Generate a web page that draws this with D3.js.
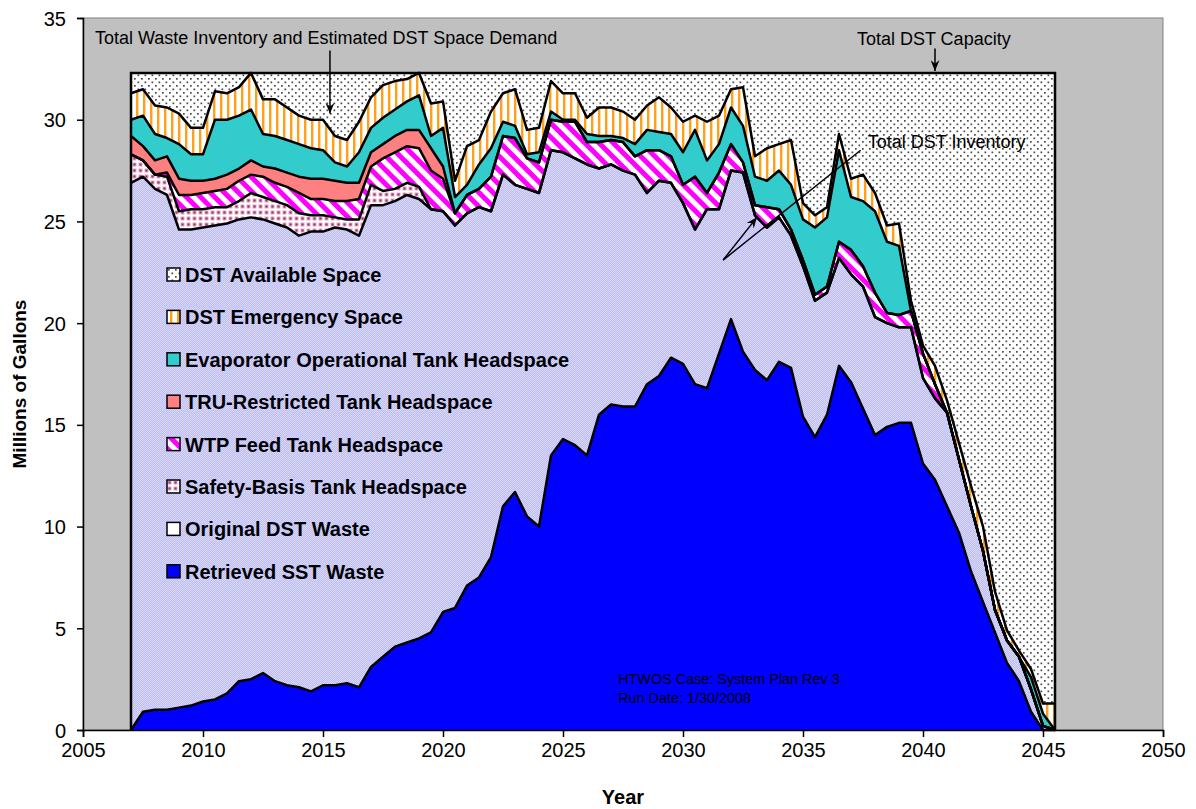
<!DOCTYPE html>
<html>
<head>
<meta charset="utf-8">
<script src="https://cdn.jsdelivr.net/npm/d3@7"></script>
<style>
  body { margin: 0; background: #fff; }
  svg text { font-family: Arial, "Liberation Sans", sans-serif; }
</style>
</head>
<body>
<div id="app"></div>
<script>
// half-year steps (millions of gallons, thickness of each layer)
const years = [2007, 2007.5, 2008, 2008.5, 2009, 2009.5, 2010, 2010.5, 2011, 2011.5,
	2012, 2012.5, 2013, 2013.5, 2014, 2014.5, 2015, 2015.5, 2016, 2016.5,
	2017, 2017.5, 2018, 2018.5, 2019, 2019.5, 2020, 2020.5, 2021, 2021.5,
	2022, 2022.5, 2023, 2023.5, 2024, 2024.5, 2025, 2025.5, 2026, 2026.5,
	2027, 2027.5, 2028, 2028.5, 2029, 2029.5, 2030, 2030.5, 2031, 2031.5,
	2032, 2032.5, 2033, 2033.5, 2034, 2034.5, 2035, 2035.5, 2036, 2036.5,
	2037, 2037.5, 2038, 2038.5, 2039, 2039.5, 2040, 2040.5, 2041, 2041.5,
	2042, 2042.5, 2043, 2043.5, 2044, 2044.5, 2045, 2045.5];

const retrievedSST = [0.0, 0.9, 1.0, 1.0, 1.1, 1.2, 1.4, 1.5, 1.8, 2.4,
	2.5, 2.8, 2.4, 2.2, 2.1, 1.9, 2.2, 2.2, 2.3, 2.1,
	3.1, 3.6, 4.1, 4.3, 4.5, 4.8, 5.8, 6.0, 7.1, 7.5,
	8.5, 11.0, 11.7, 10.5, 10.0, 13.5, 14.3, 14.0, 13.5, 15.5,
	16.0, 15.9, 15.9, 17.0, 17.4, 18.3, 18.0, 17.0, 16.8, 18.5,
	20.2, 18.6, 17.7, 17.2, 18.1, 17.8, 15.4, 14.4, 15.5, 17.9,
	17.1, 15.8, 14.5, 14.9, 15.1, 15.1, 13.1, 12.3, 11.0, 9.7,
	7.8, 6.3, 4.8, 3.3, 2.4, 0.9, 0, 0];

const originalDST = [26.9, 26.3, 25.6, 25.3, 23.5, 23.4, 23.3, 23.3, 23.1, 22.7,
	22.7, 22.3, 22.5, 22.5, 22.2, 22.6, 22.3, 22.5, 22.3, 22.2,
	22.7, 22.2, 21.9, 22.0, 21.6, 20.8, 19.7, 18.8, 18.3, 18.2,
	17.0, 16.3, 15.1, 16.1, 16.4, 15.0, 14.1, 14.1, 14.3, 12.1,
	11.8, 11.6, 11.4, 9.4, 9.6, 8.6, 7.9, 7.6, 8.8, 7.1,
	7.3, 8.8, 7.6, 7.5, 7.1, 6.5, 7.4, 6.7, 6.0, 5.3,
	5.3, 6.0, 5.8, 5.1, 4.7, 4.7, 4.2, 4.0, 4.6, 3.6,
	3.2, 2.5, 1.1, 1.1, 1.2, 1.1, 0.2, 0];

const safetyBasis = [1.4, 0.8, 0.7, 0.9, 0.9, 1.0, 0.9, 0.9, 0.8, 0.9,
	1.2, 1.1, 1.1, 1.1, 1.1, 0.8, 0.8, 0.5, 0.5, 0.8,
	1.0, 0.7, 0.6, 0.6, 0.6, 0, 0, 0, 0, 0,
	0, 0, 0, 0, 0, 0, 0, 0, 0, 0,
	0, 0, 0, 0, 0, 0, 0, 0, 0, 0,
	0, 0, 0, 0, 0, 0, 0, 0, 0, 0,
	0, 0, 0, 0, 0, 0, 0, 0, 0, 0,
	0, 0, 0, 0, 0, 0, 0, 0];

const wtpFeed = [0, 0, 0, 0.2, 0.8, 0.7, 0.8, 0.8, 0.9, 1.0,
	0.9, 1.0, 0.9, 0.9, 1.0, 0.8, 0.8, 0.8, 0.9, 1.0,
	0.9, 1.6, 1.8, 1.8, 1.9, 1.9, 1.6, 0.6, 0.9, 0.9,
	1.7, 1.9, 2.3, 1.5, 1.5, 1.5, 1.5, 1.8, 1.1, 1.3,
	1.2, 1.4, 0.9, 2.1, 1.5, 1.3, 0.9, 2.6, 0.8, 1.8,
	1.3, 0.5, 0.5, 1.0, 0.4, 0.3, 0.3, 0.3, 0.3, 0.8,
	1.2, 1.0, 1.2, 0.5, 0.6, 0.8, 1.2, 0.7, 0, 0,
	0, 0, 0, 0, 0, 0, 0, 0];

const truRestricted = [0.9, 0.7, 0.7, 0.8, 0.8, 0.7, 0.6, 0.6, 0.7, 0.6,
	0.7, 0.5, 0.7, 0.7, 0.8, 1.0, 1.0, 1.0, 0.9, 0.8,
	0.7, 0.7, 0.8, 0.8, 0.9, 1.1, 0.6, 0, 0, 0,
	0, 0, 0, 0, 0, 0, 0, 0, 0, 0,
	0, 0, 0, 0, 0, 0, 0, 0, 0, 0,
	0, 0, 0, 0, 0, 0, 0, 0, 0, 0,
	0, 0, 0, 0, 0, 0, 0, 0, 0, 0,
	0, 0, 0, 0, 0, 0, 0, 0];

const evaporator = [0.8, 1.5, 1.3, 0.9, 1.7, 1.3, 1.3, 2.9, 2.7, 2.6,
	2.5, 1.6, 1.6, 1.6, 1.6, 1.5, 1.4, 0.9, 0.8, 1.5,
	1.2, 1.3, 1.3, 1.4, 1.7, 0.6, 1.9, 0.8, 0.5, 1.2,
	1.4, 0.7, 0.6, 0.2, 0.5, 0.4, 0.1, 0.1, 0.4, 0.3,
	0.2, 0.2, 0.6, 1.0, 0.9, 1.1, 1.6, 2.3, 1.6, 1.4,
	1.8, 1.8, 1.4, 1.3, 1.9, 2.2, 2.0, 3.3, 3.4, 4.5,
	2.6, 3.2, 4.0, 3.5, 3.4, 0, 0, 0, 0, 0,
	0, 0, 0, 0, 0, 0.6, 0.6, 0];

const emergency = [1.3, 1.3, 1.4, 1.5, 1.5, 1.3, 1.3, 1.4, 1.3, 1.4,
	1.8, 1.7, 1.8, 1.6, 1.4, 1.4, 1.5, 1.3, 1.3, 1.5,
	1.5, 1.6, 1.4, 1.1, 1.1, 1.6, 1.3, 0.8, 1.9, 1.2,
	1.8, 1.4, 1.8, 1.2, 1.2, 1.5, 1.3, 1.3, 0.8, 1.4,
	1.4, 1.3, 1.2, 1.2, 1.7, 1.3, 1.5, 0.7, 1.9, 1.4,
	0.9, 1.9, 1.0, 1.6, 1.3, 2.2, 0.8, 0.6, 0.5, 0.8,
	0.9, 1.3, 0.9, 0.8, 1.1, 0.5, 0.4, 0.9, 0.6, 0.8,
	1.0, 1.2, 0.9, 0.5, 0.3, 0.4, 0.5, 1.3];

const dstCapacity = 32.3;

const xTicks = [2005, 2010, 2015, 2020, 2025, 2030, 2035, 2040, 2045, 2050];
const yTicks = [0, 5, 10, 15, 20, 25, 30, 35];

const layerKeys = ["sst", "original", "safety", "wtp", "tru", "evap", "emergency"];
const layerFill = {
	sst: "#0000ff",
	original: "url(#pOriginal)",
	safety: "url(#pSafety)",
	wtp: "url(#pWtp)",
	tru: "#ff8080",
	evap: "#33cccc",
	emergency: "url(#pEmergency)"
};

const legendItems = [
	{ label: "DST Available Space", fill: "url(#pDots)" },
	{ label: "DST Emergency Space", fill: "url(#pEmergency)" },
	{ label: "Evaporator Operational Tank Headspace", fill: "#33cccc" },
	{ label: "TRU-Restricted Tank Headspace", fill: "#ff8080" },
	{ label: "WTP Feed Tank Headspace", fill: "url(#pWtp)" },
	{ label: "Safety-Basis Tank Headspace", fill: "url(#pSafety)" },
	{ label: "Original DST Waste", fill: "#ffffff" },
	{ label: "Retrieved SST Waste", fill: "#0000ff" }
];

const W = 1196, H = 809;
const plot = { left: 83, right: 1163, top: 18, bottom: 730 };

const x = d3.scaleLinear().domain([2005, 2050]).range([plot.left, plot.right]);
const y = d3.scaleLinear().domain([0, 35]).range([plot.bottom, plot.top]);

const svg = d3.select("#app").append("svg")
	.attr("width", W)
	.attr("height", H);

// patterns
const defs = svg.append("defs");

const pDots = defs.append("pattern").attr("id", "pDots")
	.attr("patternUnits", "userSpaceOnUse").attr("width", 7).attr("height", 7);
pDots.append("rect").attr("width", 7).attr("height", 7).attr("fill", "#fff");
pDots.append("rect").attr("x", 1).attr("y", 1).attr("width", 1.7).attr("height", 1.7).attr("fill", "#4a4a4a");
pDots.append("rect").attr("x", 4.5).attr("y", 4.5).attr("width", 1.7).attr("height", 1.7).attr("fill", "#4a4a4a");

const pEm = defs.append("pattern").attr("id", "pEmergency")
	.attr("patternUnits", "userSpaceOnUse").attr("width", 7).attr("height", 7);
pEm.append("rect").attr("width", 7).attr("height", 7).attr("fill", "#fff");
pEm.append("rect").attr("x", 3).attr("width", 2.4).attr("height", 7).attr("fill", "#ff9f1a");

const pWtp = defs.append("pattern").attr("id", "pWtp")
	.attr("patternUnits", "userSpaceOnUse").attr("width", 10).attr("height", 10)
	.attr("patternTransform", "rotate(-45)");
pWtp.append("rect").attr("width", 10).attr("height", 10).attr("fill", "#fff");
pWtp.append("rect").attr("width", 5).attr("height", 10).attr("fill", "#ff00ff");

const pSafety = defs.append("pattern").attr("id", "pSafety")
	.attr("patternUnits", "userSpaceOnUse").attr("width", 6).attr("height", 6);
pSafety.append("rect").attr("width", 6).attr("height", 6).attr("fill", "#fff");
pSafety.append("rect").attr("x", 0.5).attr("y", 0.5).attr("width", 4).attr("height", 4).attr("fill", "#d9a6c2");
pSafety.append("rect").attr("x", 1.5).attr("y", 1.5).attr("width", 2).attr("height", 2).attr("fill", "#993366");

const pOrig = defs.append("pattern").attr("id", "pOriginal")
	.attr("patternUnits", "userSpaceOnUse").attr("width", 2).attr("height", 2);
pOrig.append("rect").attr("width", 2).attr("height", 2).attr("fill", "#bdbdf3");
pOrig.append("rect").attr("width", 1).attr("height", 1).attr("fill", "#d8d8ff");
pOrig.append("rect").attr("x", 1).attr("y", 1).attr("width", 1).attr("height", 1).attr("fill", "#d8d8ff");

const marker = defs.append("marker").attr("id", "arrowHead")
	.attr("viewBox", "0 0 12 10").attr("refX", 12).attr("refY", 5)
	.attr("markerUnits", "userSpaceOnUse")
	.attr("markerWidth", 12).attr("markerHeight", 9)
	.attr("orient", "auto");
marker.append("path").attr("d", "M0,0 L12,5 L0,10 L4,5 Z").attr("fill", "#000");

// plot background
svg.append("rect")
	.attr("x", plot.left).attr("y", plot.top)
	.attr("width", plot.right - plot.left).attr("height", plot.bottom - plot.top)
	.attr("fill", "#c0c0c0")
	.attr("stroke", "#808080").attr("stroke-width", 1);

// stacked layers
const rows = years.map((yr, i) => ({
	year: yr,
	sst: retrievedSST[i],
	original: originalDST[i],
	safety: safetyBasis[i],
	wtp: wtpFeed[i],
	tru: truRestricted[i],
	evap: evaporator[i],
	emergency: emergency[i]
}));

const stacked = d3.stack().keys(layerKeys)(rows);
const topLayer = stacked[stacked.length - 1];

const area = d3.area()
	.x(d => x(d.data.year))
	.y0(d => y(d[0]))
	.y1(d => y(d[1]));

const line = d3.line()
	.x(d => x(d.data.year))
	.y(d => y(d[1]));

const g = svg.append("g");

// DST available space: from top of stack up to capacity
g.append("path")
	.datum(topLayer)
	.attr("d", d3.area()
		.x(d => x(d.data.year))
		.y0(d => y(d[1]))
		.y1(() => y(dstCapacity)))
	.attr("fill", "url(#pDots)");

g.selectAll("path.layer")
	.data(stacked)
	.enter()
	.append("path")
	.attr("class", "layer")
	.attr("d", area)
	.attr("fill", d => layerFill[d.key]);

g.selectAll("path.edge")
	.data(stacked)
	.enter()
	.append("path")
	.attr("class", "edge")
	.attr("d", line)
	.attr("fill", "none")
	.attr("stroke", "#000")
	.attr("stroke-width", 2.5)
	.attr("stroke-linejoin", "round");

// outline of the capacity block
const x0 = x(years[0]), x1 = x(years[years.length - 1]);
g.append("path")
	.attr("d", `M${x0},${y(0)} V${y(dstCapacity)} H${x1} V${y(0)}`)
	.attr("fill", "none")
	.attr("stroke", "#000")
	.attr("stroke-width", 2.5);

// axes
const xAxis = d3.axisBottom(x).tickValues(xTicks).tickFormat(d3.format("d"))
	.tickSize(7).tickPadding(6);
const yAxis = d3.axisLeft(y).tickValues(yTicks).tickSize(6).tickPadding(11);

const gx = svg.append("g").attr("transform", `translate(0,${plot.bottom})`).call(xAxis);
const gy = svg.append("g").attr("transform", `translate(${plot.left},0)`).call(yAxis);

[gx, gy].forEach(a => {
	a.select(".domain").attr("stroke", "#000").attr("stroke-width", 1.5);
	a.selectAll(".tick line").attr("stroke", "#000").attr("stroke-width", 1.5);
	a.selectAll(".tick text").attr("fill", "#000").style("font-size", "20px");
});
gy.selectAll(".tick text").attr("dy", "0.35em");

svg.append("text")
	.attr("x", (plot.left + plot.right) / 2)
	.attr("y", 804)
	.attr("text-anchor", "middle")
	.style("font-size", "20px")
	.style("font-weight", "bold")
	.text("Year");

svg.append("text")
	.attr("transform", `translate(26,${(plot.top + plot.bottom) / 2 + 10}) rotate(-90)`)
	.attr("text-anchor", "middle")
	.style("font-size", "19px")
	.style("font-weight", "bold")
	.text("Millions of Gallons");

// legend
const legend = svg.append("g").attr("transform", "translate(167,268)");
legendItems.forEach((item, i) => {
	const row = legend.append("g").attr("transform", `translate(0,${i * 42.4})`);
	row.append("rect")
		.attr("width", 13).attr("height", 13)
		.attr("fill", item.fill)
		.attr("stroke", "#000").attr("stroke-width", 1.5);
	row.append("text")
		.attr("x", 18).attr("y", 14)
		.style("font-size", "20px")
		.style("font-weight", "bold")
		.text(item.label);
});

// annotations
function arrow(xa, ya, xb, yb, head) {
	const l = svg.append("line")
		.attr("x1", x(xa)).attr("y1", y(ya))
		.attr("x2", x(xb)).attr("y2", y(yb))
		.attr("stroke", "#000").attr("stroke-width", 1.5);
	if (head) l.attr("marker-end", "url(#arrowHead)");
}

svg.append("text")
	.attr("x", x(2005.5)).attr("y", y(33.7))
	.style("font-size", "18px")
	.text("Total Waste Inventory and Estimated DST Space Demand");
arrow(2015.29, 33.4, 2015.29, 30.3, true);

svg.append("text")
	.attr("x", x(2040.45)).attr("y", y(33.67))
	.attr("text-anchor", "middle")
	.style("font-size", "18px")
	.text("Total DST Capacity");
arrow(2040.5, 33.5, 2040.5, 32.4, true);

svg.append("text")
	.attr("x", x(2037.7)).attr("y", y(28.6))
	.style("font-size", "18px")
	.text("Total DST Inventory");
arrow(2031.67, 23.1, 2033.08, 25.2, true);
arrow(2031.67, 23.1, 2037.4, 28.5, false);

svg.append("text")
	.attr("x", x(2027.3)).attr("y", y(2.26))
	.style("font-size", "14.4px")
	.text("HTWOS Case: System Plan Rev 3");
svg.append("text")
	.attr("x", x(2027.3)).attr("y", y(1.33))
	.style("font-size", "14.4px")
	.text("Run Date: 1/30/2008");
</script>
</body>
</html>
